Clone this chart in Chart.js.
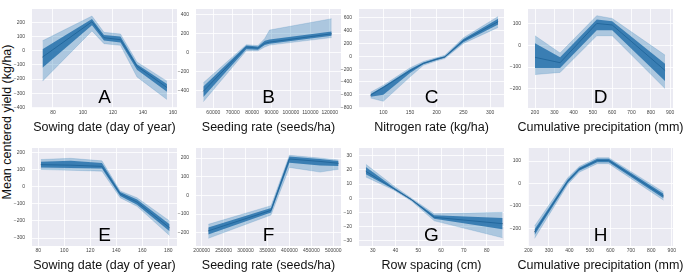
<!DOCTYPE html>
<html>
<head>
<meta charset="utf-8">
<script src="https://cdn.jsdelivr.net/npm/chart.js@4.4.1/dist/chart.umd.min.js"></script>
<style>
  body { margin: 0; background: #fff; width: 685px; height: 278px; overflow: hidden; position: relative; font-family: "Liberation Sans", Arial, sans-serif; }
  canvas { position: absolute; }
  #ylab { position: absolute; left: 7px; top: 122px; transform: translate(-50%, -50%) rotate(-90deg); white-space: nowrap; font-size: 12.5px; color: #111; }
</style>
</head>
<body>
<div id="ylab">Mean centered yield (kg/ha)</div>
<script>
// A - sowing date (top row)
var aX      = [73, 106, 114, 125, 136, 156];
var aMean   = [-45, 205, 92, 78, -110, -260];
var aLo     = [-215, 140, 50, 38, -185, -345];
var aHi     = [70, 245, 130, 118, -80, -215];
var aCoreLo = [-120, 180, 72, 58, -135, -290];
var aCoreHi = [10, 225, 112, 100, -95, -235];
var aXTicks = [80, 100, 120, 140, 160];
var aYTicks = [-400, -300, -200, -100, 0, 100, 200];

// B - seeding rate (top row)
var bX      = [54850, 77000, 83000, 86500, 89000, 121000];
var bMean   = [-410, 60, 48, 100, 112, 200];
var bLo     = [-520, 20, 20, 60, 80, 160];
var bHi     = [-320, 85, 75, 150, 240, 360];
var bCoreLo = [-470, 35, 32, 80, 95, 178];
var bCoreHi = [-360, 75, 65, 125, 140, 225];
var bXTicks = [60000, 70000, 80000, 90000, 100000, 110000, 120000];
var bYTicks = [-400, -200, 0, 200, 400];

// C - nitrogen rate
var cX      = [76, 100, 150, 175, 200, 215, 250, 315];
var cMean   = [-605, -485, -225, -110, -45, -10, 245, 540];
var cLo     = [-650, -700, -320, -140, -70, -35, 200, 450];
var cHi     = [-560, -450, -180, -80, -20, 15, 290, 620];
var cCoreLo = [-630, -600, -260, -125, -58, -22, 220, 495];
var cCoreHi = [-585, -470, -200, -95, -32, 2, 268, 585];
var cXTicks = [100, 150, 200, 250, 300];
var cYTicks = [-800, -600, -400, -200, 0, 200, 400, 600];

// D - cumulative precipitation (top row)
var dX      = [200, 330, 520, 600, 874];
var dMean   = [-55, -80, 102, 95, -116];
var dLo     = [-135, -125, 45, 45, -200];
var dHi     = [45, -35, 138, 125, -45];
var dCoreLo = [-105, -105, 70, 70, -165];
var dCoreHi = [10, -55, 120, 112, -85];
var dXTicks = [200, 300, 400, 500, 600, 700, 800, 900];
var dYTicks = [-200, -100, 0, 100];

// E - sowing date (bottom row)
var eX      = [82, 105, 129, 143, 156, 181];
var eMean   = [128, 125, 118, -42, -90, -240];
var eLo     = [100, 95, 90, -65, -115, -285];
var eHi     = [158, 165, 150, -25, -65, -200];
var eCoreLo = [112, 108, 105, -55, -105, -260];
var eCoreHi = [145, 150, 138, -32, -75, -220];
var eXTicks = [80, 100, 120, 140, 160, 180];
var eYTicks = [-300, -200, -100, 0, 100, 200];

// F - seeding rate (bottom row)
var fX      = [215000, 358000, 400000, 470000, 512000];
var fMean   = [-190, -80, 195, 182, 172];
var fLo     = [-230, -105, 150, 125, 140];
var fHi     = [-155, -55, 215, 200, 190];
var fCoreLo = [-210, -92, 175, 160, 158];
var fCoreHi = [-172, -68, 208, 195, 185];
var fXTicks = [200000, 250000, 300000, 350000, 400000, 450000, 500000];
var fYTicks = [-200, -100, 0, 100, 200];

// G - row spacing
var gX      = [27, 39, 47, 57, 87];
var gMean   = [19, 7, -1, -13.5, -18];
var gLo     = [15, 6, -2, -16, -28];
var gHi     = [24, 9, 0, -11, -10];
var gCoreLo = [17, 6.5, -1.5, -14.5, -22];
var gCoreHi = [22, 8, -0.5, -12, -14];
var gXTicks = [30, 40, 50, 60, 70, 80];
var gYTicks = [-30, -20, -10, 0, 10, 20, 30];

// H - cumulative precipitation (bottom row)
var hX      = [230, 392, 448, 536, 592, 860];
var hMean   = [-217, 10, 63, 102, 102, -56];
var hLo     = [-245, -5, 50, 88, 88, -75];
var hHi     = [-190, 25, 75, 115, 115, -38];
var hCoreLo = [-230, 2, 56, 94, 94, -66];
var hCoreHi = [-204, 18, 70, 110, 110, -46];
var hXTicks = [200, 300, 400, 500, 600, 700, 800, 900];
var hYTicks = [-200, -100, 0, 100];

var FONT = '"Liberation Sans", Arial, sans-serif';
Chart.defaults.font.family = FONT;

var panels = [
  {id: 'A', left: 32,  top: 3,   h: 105, title: 'Sowing date (day of year)', x: aX, mean: aMean, lo: aLo, hi: aHi, cLo: aCoreLo, cHi: aCoreHi, xt: aXTicks, yt: aYTicks, xMin: 66, xMax: 162.7, yMin: -405, yMax: 295},
  {id: 'B', left: 196, top: 3,   h: 105, title: 'Seeding rate (seeds/ha)', x: bX, mean: bMean, lo: bLo, hi: bHi, cLo: bCoreLo, cHi: bCoreHi, xt: bXTicks, yt: bYTicks, xMin: 51080, xMax: 125800, yMin: -587, yMax: 463},
  {id: 'C', left: 359, top: 3,   h: 105, title: 'Nitrogen rate (kg/ha)', x: cX, mean: cMean, lo: cLo, hi: cHi, cLo: cCoreLo, cHi: cCoreHi, xt: cXTicks, yt: cYTicks, xMin: 54.4, xMax: 326, yMin: -805, yMax: 737},
  {id: 'D', left: 528, top: 3,   h: 105, title: 'Cumulative precipitation (mm)', x: dX, mean: dMean, lo: dLo, hi: dHi, cLo: dCoreLo, cHi: dCoreHi, xt: dXTicks, yt: dYTicks, xMin: 163.7, xMax: 915, yMin: -290, yMax: 169},
  {id: 'E', left: 32,  top: 142, h: 104, title: 'Sowing date (day of year)', x: eX, mean: eMean, lo: eLo, hi: eHi, cLo: eCoreLo, cHi: eCoreHi, xt: eXTicks, yt: eYTicks, xMin: 75.2, xMax: 186.7, yMin: -346, yMax: 225},
  {id: 'F', left: 196, top: 142, h: 104, title: 'Seeding rate (seeds/ha)', x: fX, mean: fMean, lo: fLo, hi: fHi, cLo: fCoreLo, cHi: fCoreHi, xt: fXTicks, yt: fYTicks, xMin: 187000, xMax: 517600, yMin: -271, yMax: 254},
  {id: 'G', left: 359, top: 142, h: 104, title: 'Row spacing (cm)', x: gX, mean: gMean, lo: gLo, hi: gHi, cLo: gCoreLo, cHi: gCoreHi, xt: gXTicks, yt: gYTicks, xMin: 24, xMax: 87.6, yMin: -33.8, yMax: 35.5},
  {id: 'H', left: 528, top: 142, h: 104, title: 'Cumulative precipitation (mm)', x: hX, mean: hMean, lo: hLo, hi: hHi, cLo: hCoreLo, cHi: hCoreHi, xt: hXTicks, yt: hYTicks, xMin: 198, xMax: 906, yMin: -279, yMax: 158}
];

function pts(xs, ys) {
  return xs.map(function (x, i) { return {x: x, y: ys[i]}; });
}

function fmt(v) {
  return v < 0 ? '\u2212' + Math.abs(v) : String(v);
}

// grey-lavender plot background (seaborn darkgrid look)
var bgPlugin = {
  id: 'plotBg',
  beforeDraw: function (chart) {
    var a = chart.chartArea, ctx = chart.ctx;
    ctx.save();
    ctx.fillStyle = '#EAEAF2';
    ctx.fillRect(a.left, a.top, a.right - a.left, a.bottom - a.top);
    ctx.restore();
  }
};

// panel letter inside the plot + x axis title below (no width squeeze)
var letterPlugin = {
  id: 'panelLetter',
  afterDraw: function (chart, args, opts) {
    var a = chart.chartArea, ctx = chart.ctx;
    var cx = (a.left + a.right) / 2;
    ctx.save();
    ctx.font = '19px ' + FONT;
    ctx.fillStyle = '#000';
    ctx.textAlign = 'center';
    ctx.textBaseline = 'alphabetic';
    ctx.fillText(opts.text, cx, a.bottom - 5);
    ctx.font = '12.5px ' + FONT;
    ctx.fillStyle = '#111';
    ctx.textBaseline = 'middle';
    ctx.fillText(opts.title, cx, chart.height - 7.5);
    ctx.restore();
  }
};

var YW = 30, PAD_T = 4, PAD_R = 12, XH = 27, PW = 145;

panels.forEach(function (p) {
  var c = document.createElement('canvas');
  c.width = YW + PW + PAD_R;
  c.height = PAD_T + p.h + XH;
  c.style.left = (p.left - YW) + 'px';
  c.style.top = (p.top - PAD_T) + 'px';
  document.body.appendChild(c);

  new Chart(c.getContext('2d'), {
    type: 'line',
    data: {
      datasets: [
        {data: pts(p.x, p.lo), borderColor: 'rgba(31,119,180,0.3)', borderWidth: 0.6, fill: false},
        {data: pts(p.x, p.hi), borderColor: 'rgba(31,119,180,0.3)', borderWidth: 0.6, backgroundColor: 'rgba(31,119,180,0.3)', fill: '-1'},
        {data: pts(p.x, p.cLo), borderWidth: 0, fill: false},
        {data: pts(p.x, p.cHi), borderWidth: 0, backgroundColor: 'rgba(24,100,162,0.78)', fill: '-1'},
        {data: pts(p.x, p.mean), borderColor: 'rgba(18,28,45,0.9)', borderWidth: 0.8, fill: false}
      ]
    },
    options: {
      responsive: false,
      animation: false,
      devicePixelRatio: 1,
      layout: {padding: {top: PAD_T, right: PAD_R, left: 0, bottom: 0}},
      elements: {point: {radius: 0}, line: {tension: 0}},
      plugins: {
        legend: {display: false},
        tooltip: {enabled: false},
        panelLetter: {text: p.id, title: p.title}
      },
      scales: {
        x: {
          type: 'linear',
          min: p.xMin,
          max: p.xMax,
          afterBuildTicks: function (s) { s.ticks = p.xt.map(function (v) { return {value: v}; }); },
          afterFit: function (s) { s.height = XH; },
          grid: {color: '#ffffff', lineWidth: 0.8, drawTicks: false},
          border: {display: false},
          ticks: {padding: 2, maxRotation: 0, autoSkip: false, color: '#444', font: {size: 5}, callback: fmt}
        },
        y: {
          min: p.yMin,
          max: p.yMax,
          afterBuildTicks: function (s) { s.ticks = p.yt.map(function (v) { return {value: v}; }); },
          afterFit: function (s) { s.width = YW; },
          grid: {color: '#ffffff', lineWidth: 0.8, drawTicks: false},
          border: {display: false},
          ticks: {padding: 7, color: '#444', font: {size: 5}, callback: fmt}
        }
      }
    },
    plugins: [bgPlugin, letterPlugin]
  });
});
</script>
</body>
</html>
